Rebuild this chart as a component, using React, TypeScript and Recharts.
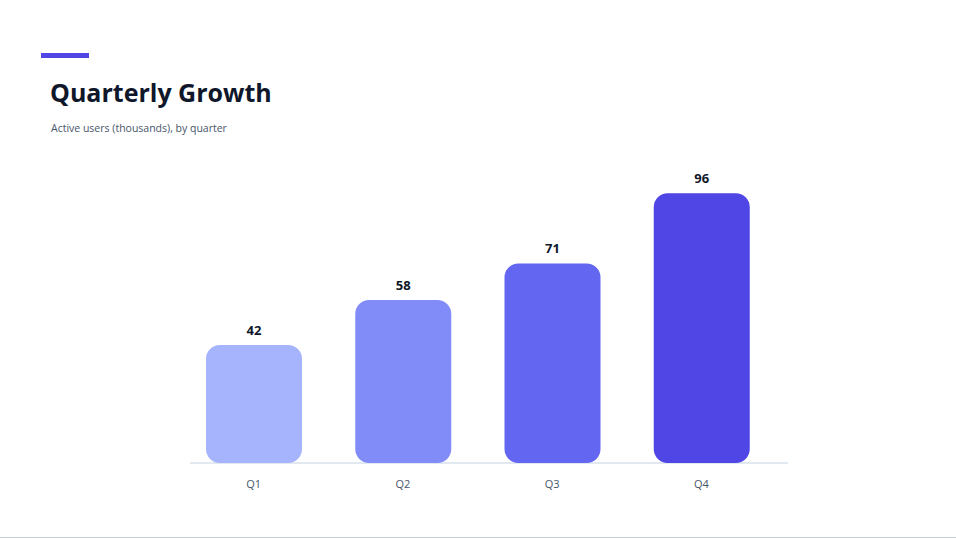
import React from "react";
import { BarChart, Bar, XAxis, YAxis, Cell, LabelList } from "recharts";

const quarters = ["Q1", "Q2", "Q3", "Q4"];
const users = [42, 58, 71, 96];
const barColors = ["#a5b4fc", "#818cf8", "#6366f1", "#4f46e5"];

const data = quarters.map((q, i) => ({ q, v: users[i] }));

const FONT = "'Open Sans', 'Noto Sans', sans-serif";

export default function App() {
  return (
    <div
      style={{
        position: "absolute",
        left: 0,
        top: 0,
        width: 956,
        height: 538,
        boxSizing: "border-box",
        borderBottom: "1px solid #c8ccd2",
        background: "#fff",
        fontFamily: FONT,
      }}
    >
      <div style={{ position: "absolute", left: 41, top: 53, width: 48, height: 5, background: "#4f46e5" }} />
      <div
        style={{
          position: "absolute",
          left: 50,
          top: 75,
          fontSize: 25,
          fontWeight: 700,
          color: "#0f172a",
          lineHeight: "34px",
          whiteSpace: "nowrap",
        }}
      >
        Quarterly Growth
      </div>
      <div
        style={{
          position: "absolute",
          left: 51,
          top: 120,
          fontSize: 10.5,
          color: "#475569",
          lineHeight: "16px",
          whiteSpace: "nowrap",
        }}
      >
        Active users (thousands), by quarter
      </div>
      <div style={{ position: "absolute", left: 190, top: 462, width: 598, height: 2, background: "#e2e8f0" }} />
      <div style={{ position: "absolute", left: 0, top: 0 }}>
        <BarChart
          width={956}
          height={538}
          data={data}
          margin={{ left: 179, right: 180, top: 182, bottom: 45 }}
        >
          <XAxis
            dataKey="q"
            axisLine={false}
            tickLine={false}
            tickSize={0}
            tickMargin={17}
            height={30}
            tick={{ fill: "#475569", fontSize: 11, fontFamily: FONT }}
          />
          <YAxis hide domain={[0, 100]} />
          <Bar dataKey="v" barSize={96} radius={[14, 14, 14, 14]} isAnimationActive={false}>
            {data.map((d, i) => (
              <Cell key={d.q} fill={barColors[i]} />
            ))}
            <LabelList
              dataKey="v"
              position="top"
              offset={10}
              style={{ fill: "#0f172a", fontSize: 13, fontWeight: 700, fontFamily: FONT }}
            />
          </Bar>
        </BarChart>
      </div>
    </div>
  );
}
